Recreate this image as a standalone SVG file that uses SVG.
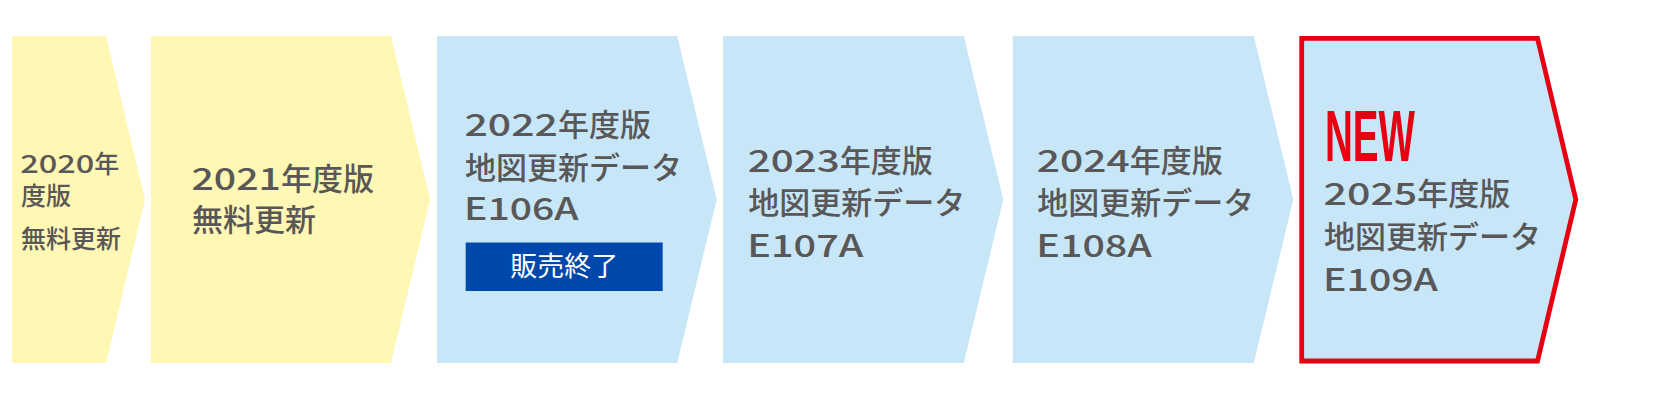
<svg xmlns="http://www.w3.org/2000/svg" width="1668" height="400" viewBox="0 0 1668 400">
  <style>
    .yel { fill: #FFF8B4; }
    .blu { fill: #C7E7F9; }
    .t { font-family: "Noto Sans CJK JP", "Noto Sans", sans-serif; fill: #595757; font-weight: 500; }
    .f31 { font-size: 31px; }
    .f25 { font-size: 25px; }
    .badge { fill: #0047AB; }
    .bt { font-family: "Noto Sans CJK JP", sans-serif; font-size: 27px; fill: #FFFFFF; text-anchor: middle; }
    .new { font-family: "Liberation Sans", "Noto Sans", sans-serif; font-weight: bold; font-size: 72px; fill: #E60012; }
  </style>
  <rect width="1668" height="400" fill="#FFFFFF"/>

  <g id="node-2020">
    <path class="yel" d="M12,36 H106 L145,199.5 L106,363 H12 Z"/>
    <text class="t f25" x="20.2" y="173" textLength="74.1" lengthAdjust="spacingAndGlyphs">2020</text>
    <text class="t f25" x="94.3" y="173">年</text>
    <text class="t f25" x="21" y="204.5">度版</text>
    <text class="t f25" x="21" y="247.5">無料更新</text>
  </g>

  <g id="node-2021">
    <path class="yel" d="M151,36 H391 L430,199.5 L391,363 H151 Z"/>
    <text class="t f31" x="191.5" y="190" textLength="89.5" lengthAdjust="spacingAndGlyphs">2021</text>
    <text class="t f31" x="281" y="190">年度版</text>
    <text class="t f31" x="192" y="230.5">無料更新</text>
  </g>

  <g id="node-2022">
    <path class="blu" d="M437,36 H677.2 L716.7,199.5 L677.2,363 H437 Z"/>
    <text class="t f31" x="464.5" y="136" textLength="93.5" lengthAdjust="spacingAndGlyphs">2022</text>
    <text class="t f31" x="558" y="136">年度版</text>
    <text class="t f31" x="465" y="178.5">地図更新データ</text>
    <text class="t f31" x="464" y="220" textLength="114.5" lengthAdjust="spacingAndGlyphs">E106A</text>
    <rect class="badge" x="465.7" y="242.5" width="197" height="48.5"/>
    <text class="bt" x="564.2" y="276">販売終了</text>
  </g>

  <g id="node-2023">
    <path class="blu" d="M723,36 H963.8 L1003.3,199.5 L963.8,363 H723 Z"/>
    <text class="t f31" x="747.8" y="171.7" textLength="91.9" lengthAdjust="spacingAndGlyphs">2023</text>
    <text class="t f31" x="839.7" y="171.7">年度版</text>
    <text class="t f31" x="748.3" y="213.5">地図更新データ</text>
    <text class="t f31" x="747.3" y="256.7" textLength="116" lengthAdjust="spacingAndGlyphs">E107A</text>
  </g>

  <g id="node-2024">
    <path class="blu" d="M1012.7,36 H1253.8 L1293.3,199.5 L1253.8,363 H1012.7 Z"/>
    <text class="t f31" x="1036.8" y="171.7" textLength="92.9" lengthAdjust="spacingAndGlyphs">2024</text>
    <text class="t f31" x="1129.7" y="171.7">年度版</text>
    <text class="t f31" x="1037.3" y="213.5">地図更新データ</text>
    <text class="t f31" x="1036.3" y="256.7" textLength="115.5" lengthAdjust="spacingAndGlyphs">E108A</text>
  </g>

  <g id="node-2025">
    <path class="blu" d="M1301.7,38.3 H1537.5 L1575.8,199.5 L1537.5,361 H1301.7 Z" stroke="#E60012" stroke-width="4.8" stroke-linejoin="miter"/>
    <text class="new" x="1325" y="161" textLength="90" lengthAdjust="spacingAndGlyphs">NEW</text>
    <text class="t f31" x="1323.5" y="205" textLength="93.8" lengthAdjust="spacingAndGlyphs">2025</text>
    <text class="t f31" x="1417.3" y="205">年度版</text>
    <text class="t f31" x="1324" y="247.5">地図更新データ</text>
    <text class="t f31" x="1323" y="290.5" textLength="115" lengthAdjust="spacingAndGlyphs">E109A</text>
  </g>
</svg>
